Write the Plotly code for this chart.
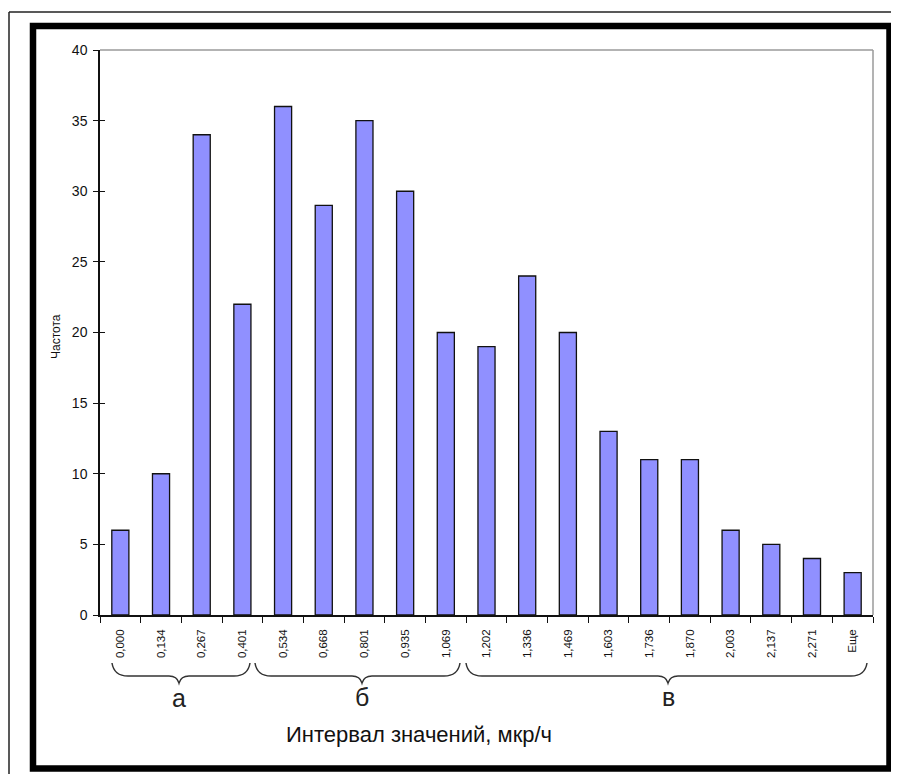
import plotly.graph_objects as go

categories = ["0,000", "0,134", "0,267", "0,401", "0,534", "0,668", "0,801", "0,935",
              "1,069", "1,202", "1,336", "1,469", "1,603", "1,736", "1,870", "2,003",
              "2,137", "2,271", "Еще"]
frequency = [6, 10, 34, 22, 36, 29, 35, 30, 20, 19, 24, 20, 13, 11, 11, 6, 5, 4, 3]
y_ticks = [0, 5, 10, 15, 20, 25, 30, 35, 40]
group_labels = ["а", "б", "в"]

# page body has an 8px margin, so the figure is shifted; compensate
OFF = 8
W, H = 899 - OFF, 774 - OFF
L, R, T, B = 100 - OFF, 26, 50 - OFF, 159
PW, PH = W - L - R, H - T - B
X0, Y0 = 100, 615  # plot-area origin in screen pixels


def px(x):
    return (x - X0) / PW


def py(y):
    return (Y0 - y) / PH


fig = go.Figure()
fig.add_trace(go.Bar(
    x=categories, y=frequency, width=0.42,
    marker=dict(color="#9090FF", line=dict(color="#111111", width=1.3)),
    showlegend=False, hoverinfo="x+y"))
fig.add_trace(go.Scatter(x=[], y=[], yaxis="y2", showlegend=False))

font = "Liberation Sans, Arial, sans-serif"

fig.update_layout(
    width=W, height=H,
    margin=dict(l=L, r=R, t=T, b=B, pad=0),
    paper_bgcolor="white", plot_bgcolor="white",
    font=dict(family=font, color="#111111"),
    xaxis=dict(
        type="category", range=[-0.5, len(categories) - 0.5],
        showline=True, linecolor="#111111", linewidth=1.5,
        ticks="outside", ticklen=6, tickwidth=1.3, tickcolor="#111111",
        tickson="boundaries", tickangle=-90,
        tickfont=dict(size=11.5, family=font, color="#111111"),
        ticklabelstandoff=8,
        showgrid=False, zeroline=False, fixedrange=True),
    yaxis=dict(
        range=[0, 40], tickvals=y_ticks,
        showline=True, linecolor="#111111", linewidth=1.5,
        ticks="outside", ticklen=5, tickwidth=1.3, tickcolor="#111111",
        tickfont=dict(size=14, family=font, color="#111111"),
        ticklabelstandoff=3,
        showgrid=False, zeroline=False, fixedrange=True),
    yaxis2=dict(
        range=[0, 40], tickvals=y_ticks, overlaying="y", side="left", anchor="x",
        showline=False, ticks="inside", ticklen=5, tickwidth=1.3, tickcolor="#111111",
        showticklabels=False, showgrid=False, zeroline=False, fixedrange=True),
)

shapes = []
# plot-area grey border (top and right)
shapes.append(dict(type="line", xref="paper", yref="paper", x0=0, x1=1, y0=1, y1=1,
                   line=dict(color="#9a9a9a", width=1.5)))
shapes.append(dict(type="line", xref="paper", yref="paper", x0=1, x1=1, y0=0, y1=1,
                   line=dict(color="#9a9a9a", width=1.5)))
# thin outer frame
shapes.append(dict(type="line", xref="paper", yref="paper", x0=px(9), x1=px(9), y0=py(12), y1=py(780),
                   line=dict(color="#222222", width=1.5)))
shapes.append(dict(type="line", xref="paper", yref="paper", x0=px(9), x1=px(905), y0=py(12), y1=py(12),
                   line=dict(color="#222222", width=1.5)))
# thick black frame
shapes.append(dict(type="rect", xref="paper", yref="paper", x0=px(33), x1=px(889.5), y0=py(26), y1=py(768.5),
                   line=dict(color="#000000", width=6.5)))

# braces
braces = [(112, 250, 179), (255, 460, 362), (466, 867, 668)]
top, mid, tip = 663, 676, 683
for xl, xr, xm in braces:
    pts = (f"M {px(xl)},{py(top)} Q {px(xl + 2)},{py(mid)} {px(xl + 16)},{py(mid)} "
           f"L {px(xm - 10)},{py(mid)} Q {px(xm - 2)},{py(mid)} {px(xm)},{py(tip)} "
           f"Q {px(xm + 2)},{py(mid)} {px(xm + 10)},{py(mid)} "
           f"L {px(xr - 16)},{py(mid)} Q {px(xr - 2)},{py(mid)} {px(xr)},{py(top)}")
    shapes.append(dict(type="path", xref="paper", yref="paper", path=pts,
                       line=dict(color="#333333", width=1.5)))
fig.update_layout(shapes=shapes)

annotations = []
for (xl, xr, xm), lab, yy in zip(braces, group_labels, [698, 697, 697]):
    annotations.append(dict(x=px(xm), y=py(yy), xref="paper", yref="paper", text=lab,
                            showarrow=False, xanchor="center", yanchor="middle",
                            font=dict(size=25, family=font, color="#222222")))
annotations.append(dict(x=px(419), y=py(735), xref="paper", yref="paper",
                        text="Интервал значений, мкр/ч", showarrow=False,
                        xanchor="center", yanchor="middle",
                        font=dict(size=22, family=font, color="#111111")))
annotations.append(dict(x=px(56), y=py(337), xref="paper", yref="paper",
                        text="Частота", showarrow=False, textangle=-90,
                        xanchor="center", yanchor="middle",
                        font=dict(size=12, family=font, color="#111111")))
fig.update_layout(annotations=annotations)

fig.write_html("out.html")
